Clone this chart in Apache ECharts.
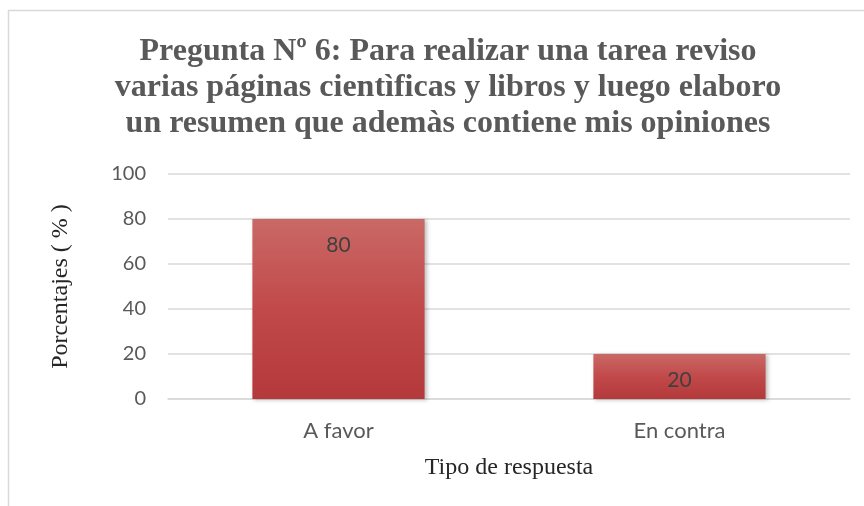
<!DOCTYPE html>
<html>
<head>
<meta charset="utf-8">
<script src="https://cdn.jsdelivr.net/npm/echarts@6/dist/echarts.min.js"></script>
<style>
  html, body { margin: 0; padding: 0; background: #fff; }
  #chart { width: 864px; height: 506px; }
</style>
</head>
<body>
<div id="chart"></div>
<script>
// datos
const categorias = ['A favor', 'En contra']
const porcentajes = [80, 20]
const ticksY = [0, 20, 40, 60, 80, 100]

const titulo = 'Pregunta Nº 6: Para realizar una tarea reviso\n' +
  'varias páginas cientìficas y libros y luego elaboro\n' +
  'un resumen que ademàs contiene mis opiniones'

const chart = echarts.init(document.getElementById('chart'))

chart.setOption({
  backgroundColor: '#fff',
  animation: false,
  graphic: [{
    type: 'rect',
    shape: { x: 8.5, y: 10.5, width: 900, height: 520 },
    style: { fill: 'none', stroke: '#d9d9d9', lineWidth: 1.5 },
    silent: true
  }],
  title: {
    text: titulo,
    left: 443,
    top: 29,
    textAlign: 'center',
    textStyle: {
      fontFamily: 'Liberation Serif',
      fontWeight: 'bold',
      fontSize: 32,
      lineHeight: 36,
      color: '#595959'
    }
  },
  grid: {
    left: 168,
    right: 14,
    top: 174,
    bottom: 107
  },
  xAxis: {
    type: 'category',
    data: categorias,
    name: 'Tipo de respuesta',
    nameLocation: 'middle',
    nameGap: 57,
    nameTextStyle: {
      fontFamily: 'Liberation Serif',
      fontSize: 24,
      color: '#262626'
    },
    axisLine: { lineStyle: { color: '#d9d9d9', width: 1.5 } },
    axisTick: { show: false },
    axisLabel: {
      margin: 21,
      fontFamily: 'Lato',
      fontSize: 22,
      color: '#595959'
    }
  },
  yAxis: {
    type: 'value',
    min: ticksY[0],
    max: ticksY[ticksY.length - 1],
    interval: 20,
    name: 'Porcentajes ( % )',
    nameLocation: 'middle',
    nameGap: 95,
    nameTextStyle: {
      fontFamily: 'Liberation Serif',
      fontSize: 24,
      color: '#262626'
    },
    axisLine: { show: false },
    axisTick: { show: false },
    axisLabel: {
      margin: 22,
      fontFamily: 'Lato',
      fontSize: 20,
      color: '#595959'
    },
    splitLine: { lineStyle: { color: '#d9d9d9', width: 1.5 } }
  },
  series: [{
    type: 'bar',
    data: porcentajes,
    barWidth: '50.5%',
    itemStyle: {
      color: new echarts.graphic.LinearGradient(0, 0, 0, 1, [
        { offset: 0, color: '#c96966' },
        { offset: 0.5, color: '#c2494a' },
        { offset: 1, color: '#b3393a' }
      ]),
      shadowColor: 'rgba(0,0,0,0.25)',
      shadowBlur: 4,
      shadowOffsetX: 2,
      shadowOffsetY: 1
    },
    label: {
      show: true,
      position: 'insideTop',
      distance: 16,
      fontFamily: 'Lato',
      fontSize: 21,
      color: '#404040'
    }
  }]
})
</script>
</body>
</html>
